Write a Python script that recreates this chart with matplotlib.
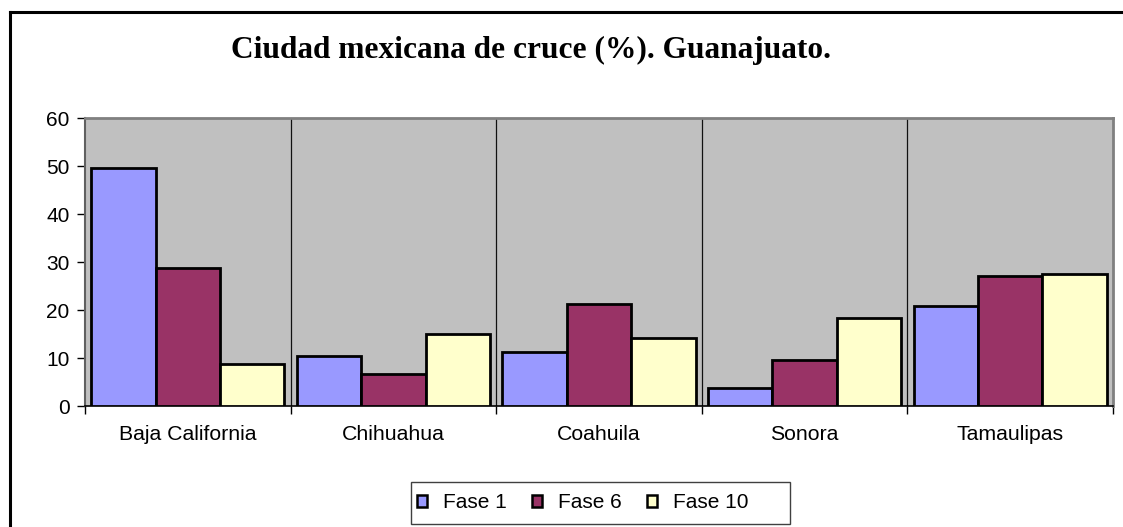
import matplotlib
matplotlib.use("Agg")
import matplotlib.pyplot as plt
import numpy as np
from matplotlib.lines import Line2D
from matplotlib.patches import Rectangle

categories = ["Baja California", "Chihuahua", "Coahuila", "Sonora", "Tamaulipas"]
series_names = ["Fase 1", "Fase 6", "Fase 10"]
fase1 = [49.6, 10.4, 11.2, 3.8, 20.8]
fase6 = [28.7, 6.7, 21.2, 9.6, 27.1]
fase10 = [8.7, 15.0, 14.2, 18.3, 27.5]
yticks = [0, 10, 20, 30, 40, 50, 60]

colors = ["#9999FF", "#993366", "#FFFFCC"]

plt.rcParams["font.family"] = ["Liberation Sans", "DejaVu Sans"]

W, H = 1123, 527
fig = plt.figure(figsize=(W / 100, H / 100), dpi=100)
fig.patch.set_facecolor("white")
ax = fig.add_axes([85 / W, 121 / H, 1028 / W, 288 / H])
ax.set_facecolor("#C0C0C0")

x = np.arange(len(categories))
width = 0.313
for i, (vals, name, col) in enumerate(zip([fase1, fase6, fase10], series_names, colors)):
    ax.bar(x + (i - 1) * width, vals, width, color=col, edgecolor="black",
           linewidth=2.0, label=name, zorder=3)

ax.set_xlim(-0.5, len(categories) - 0.5)
ax.set_ylim(0, 60)
ax.set_yticks(yticks)
ax.set_yticklabels([str(t) for t in yticks], fontsize=15)

# category boundaries: tick marks and vertical gridlines like the Excel original
bounds = np.arange(len(categories) + 1) - 0.5
ax.set_xticks(bounds)
ax.set_xticklabels([""] * len(bounds))
for b in bounds[1:-1]:
    ax.axvline(b, color="#111111", linewidth=0.9, zorder=1)
ax.tick_params(axis="x", direction="out", length=6, width=1, color="black")
ax.tick_params(axis="y", direction="out", length=6, width=1, color="black", pad=5)
for i, c in enumerate(categories):
    ax.text(i, -6.0, c, ha="center", va="center", fontsize=15.3)

for s in ["top", "right"]:
    ax.spines[s].set_color("#808080")
    ax.spines[s].set_linewidth(2)
ax.spines["left"].set_color("#606060")
ax.spines["left"].set_linewidth(1.5)
ax.spines["bottom"].set_color("black")
ax.spines["bottom"].set_linewidth(1.2)

fig.text(531 / W, 1 - 50 / H, "Ciudad mexicana de cruce (%). Guanajuato.",
         ha="center", va="center", fontsize=22.6, fontweight="bold",
         family=["Liberation Serif", "DejaVu Serif"])

# legend entries without a frame; the Excel-style box is drawn separately
handles = [Rectangle((0, 0), 1, 1, facecolor=c, edgecolor="black", linewidth=1.8)
           for c in colors]
fig.legend(handles, series_names, loc="center left", bbox_to_anchor=(417 / W, 1 - 503 / H),
           ncol=3, fontsize=15, frameon=False, handlelength=0.5, handleheight=0.5,
           handletextpad=0.75, columnspacing=1.2, borderpad=0, borderaxespad=0)
fig.add_artist(Rectangle((411 / W, 1 - 524 / H), 379 / W, 42 / H, transform=fig.transFigure,
                         facecolor="none", edgecolor="#404040", linewidth=1.0))

# outer chart border (only the left and top edges are in frame)
fig.add_artist(Line2D([10 / W, 10 / W], [0, 1 - 12 / H], color="black", linewidth=2.2))
fig.add_artist(Line2D([10 / W, 1], [1 - 12 / H, 1 - 12 / H], color="black", linewidth=2.2))

fig.savefig("out.png", dpi=100, facecolor="white")
